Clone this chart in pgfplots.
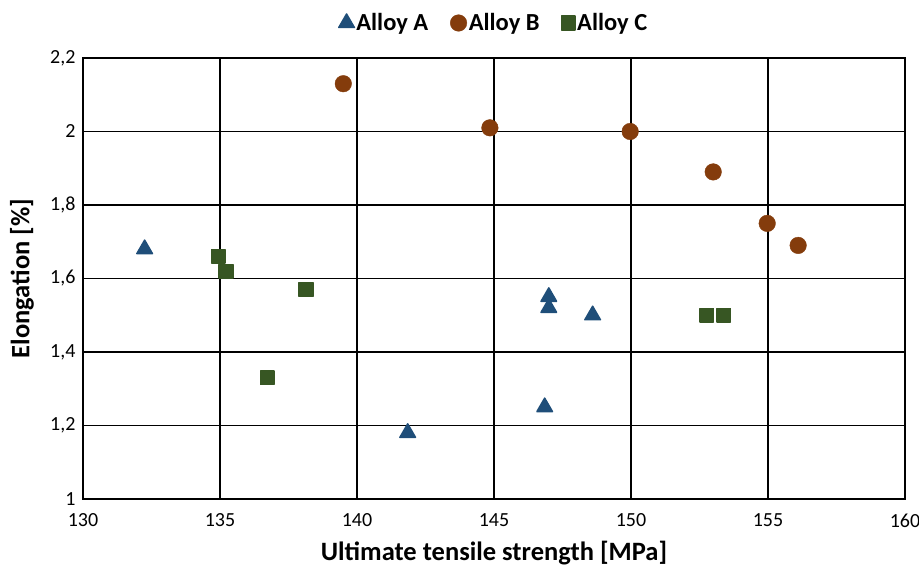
\documentclass[border=0pt]{standalone}
\usepackage{fontspec}
\setmainfont{Carlito}
\usepackage{pgfplots}
\pgfplotsset{compat=1.18}
\definecolor{cA}{HTML}{1F4E79}
\definecolor{cB}{HTML}{843C0C}
\definecolor{cC}{HTML}{375623}
\begin{document}
\begin{tikzpicture}
\begin{axis}[
  at={(0,0)}, anchor=south west,
  scale only axis, width=822bp, height=441bp,
  xmin=130, xmax=160, ymin=1, ymax=2.2,
  xtick={130,135,...,160}, ytick={1,1.2,...,2.2},
  /pgf/number format/use comma,
  /pgf/number format/assume math mode=true,
  xticklabel style={font=\fontsize{20bp}{24bp}\selectfont, yshift=-11bp},
  yticklabel style={font=\fontsize{20bp}{24bp}\selectfont, xshift=-4bp},
  major tick length=0pt,
  grid=major,
  grid style={black, line width=1.5bp},
  axis line style={black, line width=1.5bp},
  xlabel={Ultimate tensile strength [MPa]},
  ylabel={Elongation [\%]},
  xlabel style={font=\fontsize{26.5bp}{30bp}\selectfont\bfseries, at={([yshift=-54bp]axis description cs:0.5,0)}, anchor=center},
  ylabel style={font=\fontsize{26.5bp}{30bp}\selectfont\bfseries, at={([xshift=-61bp]axis description cs:0,0.5)}, anchor=center},
  legend style={at={([yshift=35bp]axis description cs:0.5,1)}, anchor=center, draw=none,
    legend columns=3, font=\fontsize{24.5bp}{28bp}\selectfont\bfseries,
    /tikz/every even column/.append style={column sep=20bp}},
  legend cell align=left,
]
\addplot[only marks, mark=triangle*, mark size=9bp, mark options={fill=cA, draw=cA, line width=1.5bp, line join=round}]
  coordinates {(132.25,1.68) (141.85,1.18) (146.85,1.25) (147.0,1.55) (147.0,1.52) (148.6,1.50)};
\addlegendentry{Alloy A}
\addplot[only marks, mark=*, mark size=8.3bp, mark options={fill=cB, draw=cB}]
  coordinates {(139.5,2.13) (144.85,2.01) (149.97,2.00) (153.0,1.89) (154.97,1.75) (156.1,1.69)};
\addlegendentry{Alloy B}
\addplot[only marks, mark=square*, mark size=6.8bp, mark options={fill=cC, draw=cC, line width=1.5bp, line join=round}]
  coordinates {(134.93,1.66) (135.22,1.62) (138.14,1.57) (136.72,1.33) (152.77,1.50) (153.39,1.50)};
\addlegendentry{Alloy C}
\end{axis}
\pgfresetboundingbox
\path[use as bounding box] (-83bp,-75bp) rectangle (836bp,499bp);
\end{tikzpicture}
\end{document}
